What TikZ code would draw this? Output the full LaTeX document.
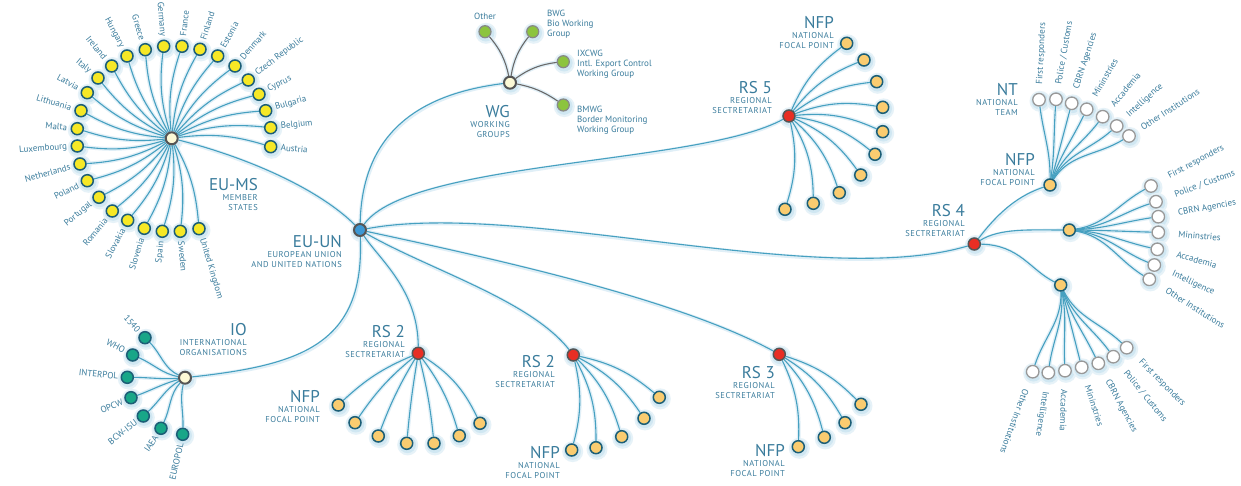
\documentclass[tikz,border=0pt]{standalone}
\usepackage{fontspec}
\setmainfont{PT Sans}
\newfontfamily\capsfont[LetterSpace=6]{PT Sans}
\usetikzlibrary{calc}

\pgfdeclarelayer{paper}
\pgfdeclarelayer{glowlayer}
\pgfdeclarelayer{edgelayer}
\pgfsetlayers{paper,glowlayer,edgelayer,main}

\definecolor{txt}{RGB}{58,124,156}
\definecolor{wire}{RGB}{70,160,192}
\definecolor{wiregray}{RGB}{105,105,105}
\definecolor{rim}{RGB}{28,94,118}
\definecolor{rimgray}{RGB}{85,85,85}
\definecolor{halo}{RGB}{208,231,242}
\definecolor{halofar}{RGB}{230,242,248}
\definecolor{wirehalo}{RGB}{224,239,247}
\definecolor{yel}{RGB}{246,232,38}
\definecolor{apricot}{RGB}{250,204,112}
\definecolor{lime}{RGB}{140,196,62}
\definecolor{jade}{RGB}{24,166,136}
\definecolor{scarlet}{RGB}{232,46,36}
\definecolor{cream}{RGB}{252,249,214}
\definecolor{sky}{RGB}{60,152,212}

\tikzset{
  dot/.style={circle, inner sep=0pt, minimum size=12pt, line width=1.5pt},
  ms/.style={dot, fill=yel, draw=rim},
  nfp/.style={dot, fill=apricot, draw=rim},
  team/.style={dot, fill=white, draw=rimgray!60, line width=1.3pt, minimum size=12.5pt},
  wgleaf/.style={dot, fill=lime, draw=rimgray!70, line width=1.2pt},
  org/.style={dot, fill=jade, draw=rim},
  rsdot/.style={dot, fill=scarlet, draw=rimgray},
  hub/.style={dot, fill=cream, draw=rimgray, line width=2pt},
  core/.style={dot, fill=sky, draw=rimgray, line width=2pt},
  link/.style={draw=wire, line width=1.1pt},
  grey link/.style={draw=wiregray, line width=1.1pt},
  haloline/.style={draw=wirehalo, line width=3.8pt, xshift=0.8pt, yshift=-1.3pt},
  lbl/.style={text=txt, font=\fontsize{9}{10}\selectfont, inner ysep=0pt},
  big/.style={text=txt, font=\fontsize{17}{18}\selectfont, inner sep=0pt, anchor=base east},
  caps/.style={text=txt, font=\capsfont\fontsize{8.5}{9}\selectfont, inner sep=0pt, anchor=base east},
}

% a dot with its soft halo: style, name, x, y
\newcommand\dotat[4]{%
  \begin{pgfonlayer}{glowlayer}
    \fill[halofar] (#3+1,#4+1.6) circle (10.5pt);
    \fill[halo] (#3+0.8,#4+1.3) circle (8.5pt);
  \end{pgfonlayer}
  \node[#1] (#2) at (#3,#4) {};}

% curved branch: style, from, to, turn at start, turn at end
\newcommand\fanlink[5]{%
  \begin{pgfonlayer}{glowlayer}
    \draw[haloline] (#2) .. controls ($(#2)!0.4!#4:(#3)$) and ($(#3)!0.4!#5:(#2)$) .. (#3);
  \end{pgfonlayer}
  \begin{pgfonlayer}{edgelayer}
    \draw[#1] (#2) .. controls ($(#2)!0.4!#4:(#3)$) and ($(#3)!0.4!#5:(#2)$) .. (#3);
  \end{pgfonlayer}}

% trunk line with given control points: style, from, c1, c2, to
\newcommand\hublink[5]{%
  \begin{pgfonlayer}{glowlayer}
    \draw[haloline] (#2) .. controls #3 and #4 .. (#5);
  \end{pgfonlayer}
  \begin{pgfonlayer}{edgelayer}
    \draw[#1] (#2) .. controls #3 and #4 .. (#5);
  \end{pgfonlayer}}

% group caption: name, right x, baseline y, title, line 1, line 2
\newcommand\grouplabel[6]{%
  \node[big] (#1) at (#2,#3) {#4};
  \node[caps] (#1-a) at (#2,#3+10) {#5};
  \node[caps] (#1-b) at (#2,#3+20) {#6};}

% working group caption: name, left x, baseline y, three lines
\newcommand\wglabel[6]{%
  \node[lbl, anchor=base west, inner sep=0pt] (#1) at (#2,#3) {#4};
  \node[lbl, anchor=base west, inner sep=0pt] (#1-a) at (#2,#3+10) {#5};
  \node[lbl, anchor=base west, inner sep=0pt] (#1-b) at (#2,#3+20) {#6};}

\begin{document}
\begin{tikzpicture}[x=1pt,y=-1pt]
\begin{pgfonlayer}{paper}
  \fill[white] (0,0) rectangle (1241,485);
\end{pgfonlayer}
\useasboundingbox (0,0) rectangle (1241,485);

% hubs
\dotat{core}{euun}{360}{230}
\dotat{hub}{msh}{171.7}{138.3}
\dotat{hub}{wgh}{510}{82.7}
\dotat{hub}{ioh}{185}{377.7}
\dotat{rsdot}{rs5}{789}{116}
\dotat{rsdot}{rs4}{974.3}{244}
\dotat{rsdot}{rs2a}{418.3}{353.3}
\dotat{rsdot}{rs2b}{573.3}{355}
\dotat{rsdot}{rs3}{779.3}{354.3}
\dotat{nfp}{nfpa}{1050}{185}
\dotat{nfp}{nfpb}{1069.3}{230}
\dotat{nfp}{nfpc}{1060.7}{285}

% trunk lines
\hublink{link}{msh}{(250,158)}{(320,190)}{euun}
\hublink{link}{euun}{(362,140)}{(410,95)}{wgh}
\hublink{link}{euun}{(410,160)}{(700,165)}{rs5}
\hublink{link}{euun}{(520,200)}{(820,290)}{rs4}
\hublink{link}{euun}{(430,270)}{(530,300)}{rs2b}
\hublink{link}{euun}{(500,260)}{(680,300)}{rs3}
\hublink{link}{euun}{(380,260)}{(418,290)}{rs2a}
\hublink{link}{euun}{(365,345)}{(300,365)}{ioh}
\hublink{link}{rs4}{(1000,210)}{(1020,195)}{nfpa}
\hublink{link}{rs4}{(1000,228)}{(1030,230)}{nfpb}
\hublink{link}{rs4}{(1020,245)}{(1030,270)}{nfpc}

% member states, labels reading outwards
\foreach \x/\y/\rot/\lab [count=\i] in {
  270.7/146.7/-4.9/Austria, 270.7/127.7/6.1/Belgium, 265.7/110.7/16.4/Bulgaria,
  259/94.3/26.7/Cyprus, 248.3/80/37.3/Czech Republic, 235/66/48.8/Denmark,
  217.7/56/60.8/Estonia, 200/49.3/72.4/Finland, 182/46.3/83.6/France,
  180.3/231.3/-84.7/Sweden, 199/228.7/-73.2/United Kingdom}{
  \dotat{ms}{mse\i}{\x}{\y}
  \node[lbl, anchor=west, rotate=\rot, inner xsep=10pt] (mse\i-t) at (mse\i) {\lab};
  \fanlink{link}{msh}{mse\i}{12}{-12}
}
% member states, labels reading inwards
\foreach \x/\y/\rot/\lab [count=\i] in {
  163.7/46.3/-85/Germany, 145.3/49.7/-73.4/Greece, 127/56/-61.5/Hungary,
  111.7/66/-50.3/Ireland, 98/78/-39.3/Italy, 87.3/92.7/-28.4/Latvia,
  81/110.7/-17/Lithuania, 77.3/128.7/-5.8/Malta, 77.3/146/4.7/Luxembourg,
  80/164/15.7/Netherlands, 87.3/180.7/26.7/Poland, 99/197.3/39/Portugal,
  112.3/211/50.7/Romania, 127.7/220.3/61.8/Slovakia, 144.3/228.3/73/Slovenia,
  162.3/231.3/84.2/Spain}{
  \dotat{ms}{msw\i}{\x}{\y}
  \node[lbl, anchor=east, rotate=\rot, inner xsep=10pt] (msw\i-t) at (msw\i) {\lab};
  \fanlink{link}{msh}{msw\i}{12}{-12}
}

% international organisations
\foreach \x/\y/\rot/\lab/\bendA [count=\i] in {
  145/337.7/-48/1540/22, 132.7/355/-28/WHO/14, 127.3/377.3/-6/INTERPOL/5,
  131/397.7/23/OPCW/-5, 143.3/416/38/BCW-ISU/-13, 161/428.3/57/IAEA/-18,
  182.7/434.3/77/EUROPOL/-12}{
  \dotat{org}{iol\i}{\x}{\y}
  \node[lbl, anchor=east, rotate=\rot, inner xsep=9pt] (iol\i-t) at (iol\i) {\lab};
  \fanlink{link}{ioh}{iol\i}{\bendA}{0}
}

% working groups
\foreach \x/\y/\bendA [count=\i, evaluate=\bendA as \bendB using 0-(\bendA)] in {
  485/31.7/-15, 532.7/31.7/15, 563.3/61.7/15, 563.3/105/12}{
  \dotat{wgleaf}{wgl\i}{\x}{\y}
  \fanlink{grey link}{wgh}{wgl\i}{\bendA}{\bendB}
}
\node[lbl, anchor=base, inner sep=0pt] (othert) at (485,19) {Other};
\wglabel{bwgt}{547}{16.5}{BWG}{Bio Working}{Group}
\wglabel{ixcwgt}{577}{56}{IXCWG}{Intl. Export Control}{Working Group}
\wglabel{bmwgt}{577}{112}{BMWG}{Border Monitoring}{Working Group}

% regional secretariat 5
\foreach \x/\y [count=\i] in {846.7/43.3, 864/60, 876.7/81.7, 882.7/107.3,
  882.7/131.7, 875/154.3, 860.7/175, 839.3/192.7, 813.3/203.3, 785/209.3}{
  \dotat{nfp}{rsf\i}{\x}{\y}
  \fanlink{link}{rs5}{rsf\i}{15}{-15}
}
% regional secretariat 2 (left)
\foreach \x/\y/\bendA [count=\i, evaluate=\bendA as \bendB using 0-(\bendA)] in {
  338.3/405/-10, 355/422.7/-8, 378.3/436/-5, 406.7/443.3/-2, 434/443.3/4,
  459.3/435.7/10, 480/423.3/16}{
  \dotat{nfp}{rsa\i}{\x}{\y}
  \fanlink{link}{rs2a}{rsa\i}{\bendA}{\bendB}
}
% regional secretariat 2 (middle)
\foreach \x/\y [count=\i] in {571.7/450, 596/447.7, 621.7/436.7, 644/418.3, 659.3/397.3}{
  \dotat{nfp}{rsb\i}{\x}{\y}
  \fanlink{link}{rs2b}{rsb\i}{14}{-14}
}
% regional secretariat 3
\foreach \x/\y [count=\i] in {798.3/446.7, 824.3/437.3, 845/422.7, 861/404.3}{
  \dotat{nfp}{rsc\i}{\x}{\y}
  \fanlink{link}{rs3}{rsc\i}{14}{-14}
}

% national team above the upper focal point
\foreach \x/\y/\rot/\lab/\bendA [count=\i] in {
  1039/99.7/87/First responders/-8, 1056/99.3/80/{Police / Customs}/-4,
  1071.7/103.3/72/CBRN Agencies/0, 1086.7/109.3/60/Mininstries/6,
  1102.7/116.7/50/Accademia/13, 1116.7/126/42/Intelligence/20,
  1129/136/33/Other Institutions/26}{
  \dotat{team}{nta\i}{\x}{\y}
  \node[lbl, anchor=west, rotate=\rot, inner xsep=15pt] (nta\i-t) at (nta\i) {\lab};
  \fanlink{link}{nfpa}{nta\i}{\bendA}{0}
}
% national team right of the middle focal point
\foreach \x/\y/\rot/\lab/\bendA [count=\i] in {
  1151/186/28/First responders/-20, 1156/201.7/20/{Police / Customs}/-13,
  1158.3/216.7/10/CBRN Agencies/-6, 1158.3/232.3/-5/Mininstries/1,
  1157.3/249.3/-15/Accademia/9, 1154.3/265/-25/Intelligence/16,
  1149.3/279.3/-32/Other Institutions/22}{
  \dotat{team}{ntb\i}{\x}{\y}
  \node[lbl, anchor=west, rotate=\rot, inner xsep=20pt] (ntb\i-t) at (ntb\i) {\lab};
  \fanlink{link}{nfpb}{ntb\i}{\bendA}{0}
}
% national team below the lower focal point
\foreach \x/\y/\rot/\lab/\bendA [count=\i] in {
  1032.7/371.7/-110/Other Institutions/20, 1048.3/372.7/-99/Intelligence/14,
  1065/370.7/-92/Accademia/8, 1081.7/367.3/-72/Mininstries/0,
  1098.3/363.3/-62/CBRN Agencies/-7, 1113.3/356.7/-51/{Police / Customs}/-14,
  1126.7/347.7/-45/First responders/-20}{
  \dotat{team}{ntc\i}{\x}{\y}
  \node[lbl, anchor=west, rotate=\rot, inner xsep=19pt] (ntc\i-t) at (ntc\i) {\lab};
  \fanlink{link}{nfpc}{ntc\i}{\bendA}{0}
}

% group captions
\grouplabel{msc}{258}{190}{EU-MS}{MEMBER}{STATES}
\grouplabel{euc}{342}{247}{EU-UN}{EUROPEAN UNION}{AND UNITED NATIONS}
\grouplabel{ioc}{247}{335}{IO}{INTERNATIONAL}{ORGANISATIONS}
\grouplabel{wgc}{510}{117}{WG}{WORKING}{GROUPS}
\grouplabel{rs5c}{772}{93}{RS 5}{REGIONAL}{SECTRETARIAT}
\grouplabel{nfp5c}{834}{28}{NFP}{NATIONAL}{FOCAL POINT}
\grouplabel{ntc}{1018}{95}{NT}{NATIONAL}{TEAM}
\grouplabel{nfp4c}{1035}{165}{NFP}{NATIONAL}{FOCAL POINT}
\grouplabel{rs4c}{965}{216}{RS 4}{REGIONAL}{SECTRETARIAT}
\grouplabel{rs2ac}{405}{337}{RS 2}{REGIONAL}{SECTRETARIAT}
\grouplabel{nfp2ac}{320}{402}{NFP}{NATIONAL}{FOCAL POINT}
\grouplabel{rs2bc}{555}{367}{RS 2}{REGIONAL}{SECTRETARIAT}
\grouplabel{nfp2bc}{560}{458}{NFP}{NATIONAL}{FOCAL POINT}
\grouplabel{rs3c}{775}{378}{RS 3}{REGIONAL}{SECTRETARIAT}
\grouplabel{nfp3c}{785}{456}{NFP}{NATIONAL}{FOCAL POINT}
\end{tikzpicture}
\end{document}
